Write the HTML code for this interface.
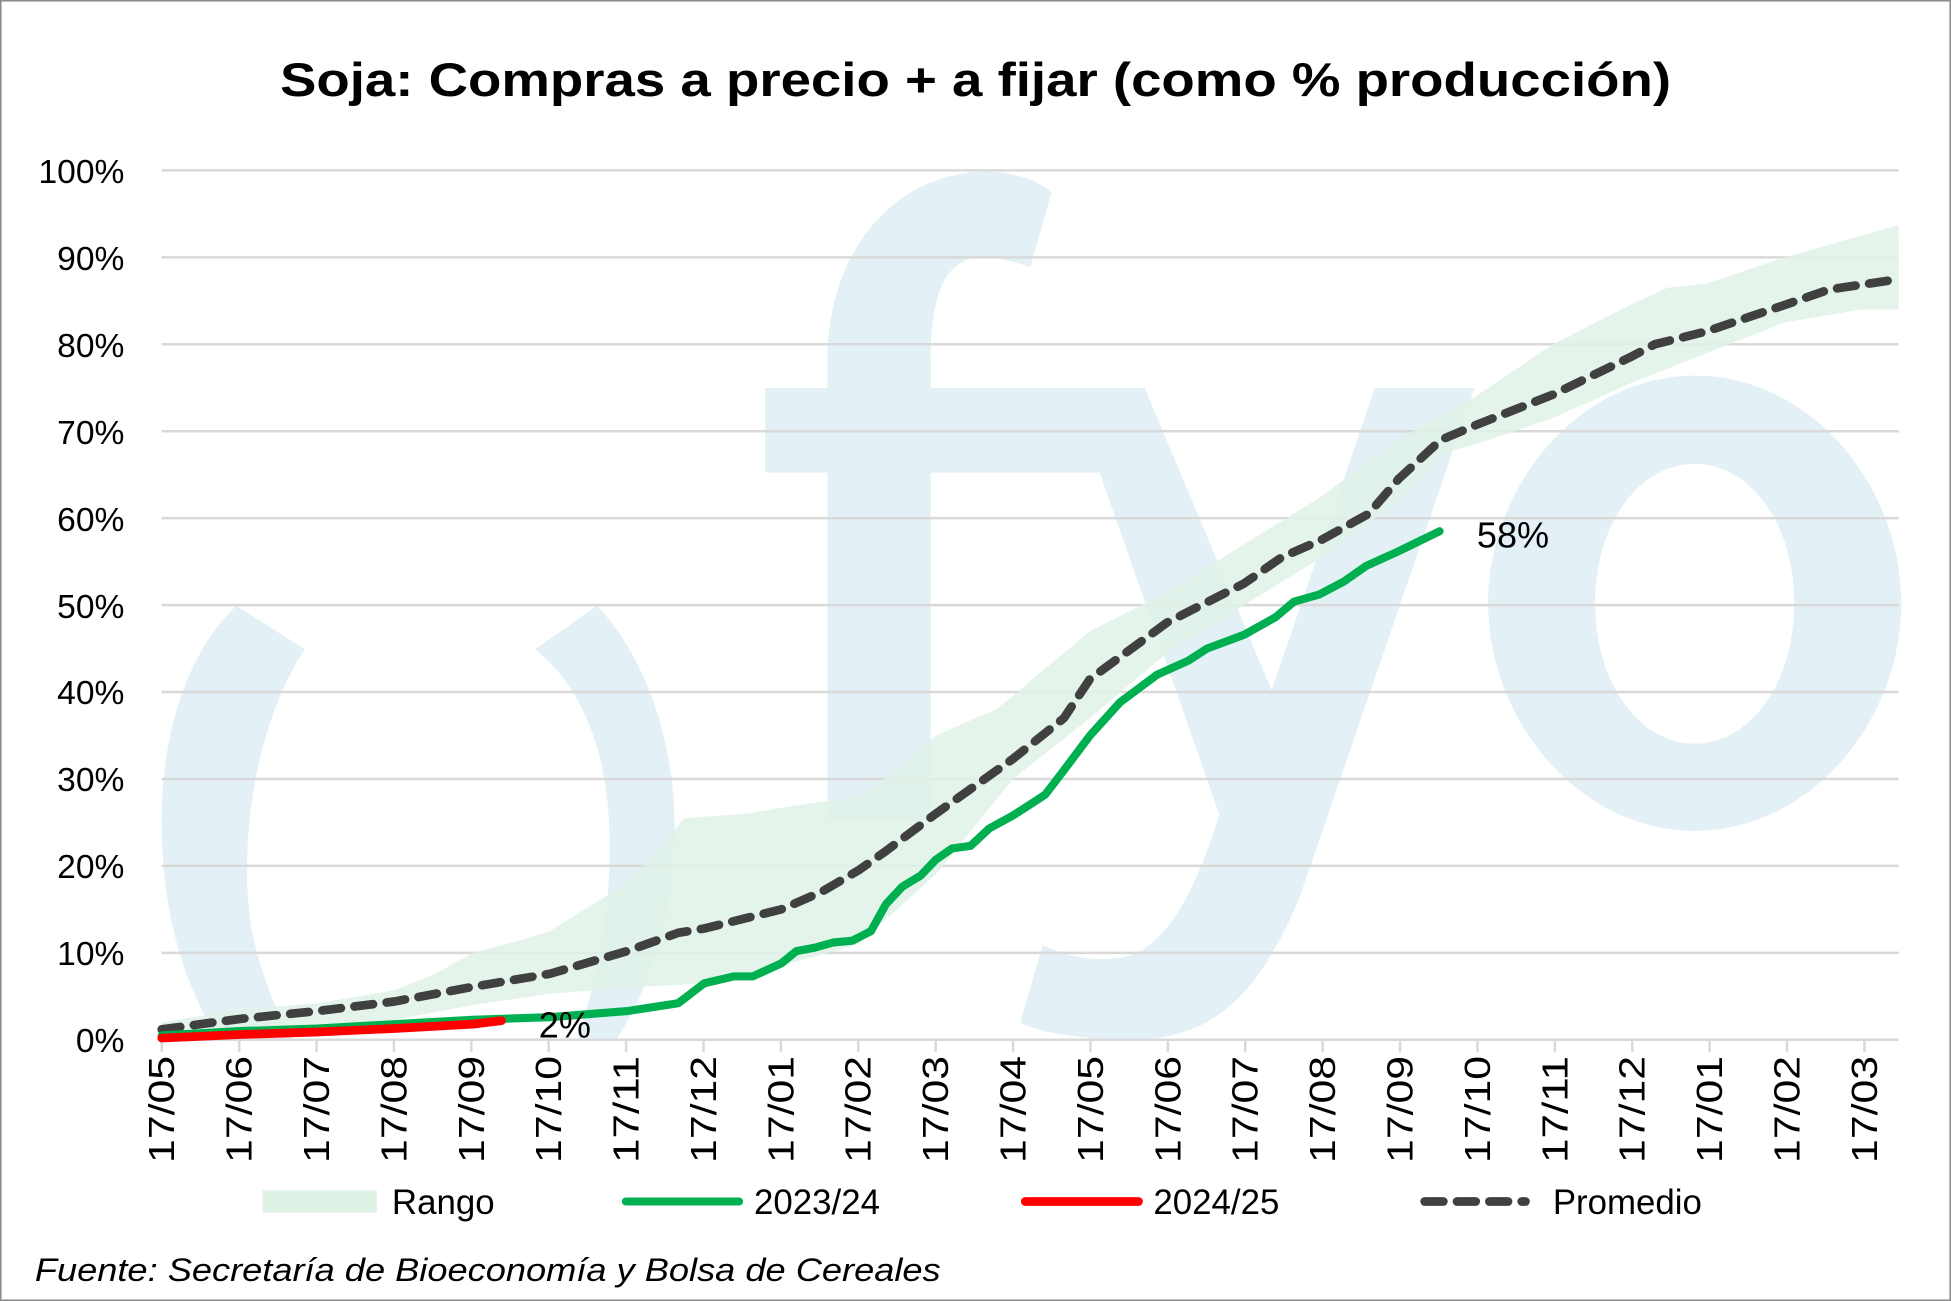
<!DOCTYPE html>
<html><head><meta charset="utf-8"><style>
html,body{margin:0;padding:0;background:#fff}
svg{display:block}
text{font-family:"Liberation Sans",sans-serif;fill:#000}
</style></head><body>
<svg id="s" width="1951" height="1301" viewBox="0 0 1568 1046" preserveAspectRatio="none" xmlns="http://www.w3.org/2000/svg">
<defs><clipPath id="cp"><rect x="0" y="0" width="1568" height="836"/></clipPath></defs>
<rect x="0.5" y="0.5" width="1567" height="1045" fill="#fff" stroke="#8c8c8c" stroke-width="1.5"/>
<!-- watermark -->
<g fill="#e3f0f5" clip-path="url(#cp)">
<path d="M190,487 L245,522 C200,590 190,700 205,760 C215,800 230,830 245,850 L185,850 C150,800 130,740 130,660 C130,580 155,520 190,487 Z"/>
<path d="M480,487 C520,530 545,600 542,680 C540,760 510,820 478,860 L455,860 C470,820 490,760 490,680 C490,600 465,550 430,522 Z"/>
<path d="M665,660 L665,290 C665,200 720,140 790,138 C815,138 835,145 845,155 L828,215 C815,210 800,207 790,207 C760,207 748,235 748,290 L748,660 Z"/>
<rect x="615" y="312" width="305" height="68"/>
<path d="M860,312 L920,312 L1022,555 L1105,312 L1185,312 L1045,720 C1000,830 950,840 880,835 C850,832 830,828 820,822 L838,760 C860,770 880,773 900,770 C935,765 960,720 980,655 Z"/>
<path fill-rule="evenodd" d="M1362,302 C1455,302 1528,390 1528,485 C1528,580 1455,668 1362,668 C1270,668 1196,580 1196,485 C1196,390 1270,302 1362,302 Z M1362,373 C1318,373 1282,420 1282,485 C1282,550 1318,598 1362,598 C1406,598 1442,550 1442,485 C1442,420 1406,373 1362,373 Z"/>
</g>
<g id="grid" stroke="#d9d9d9" stroke-width="2"></g>
<path id="rango" fill="#dff2e6" fill-opacity="0.85"/>
<path id="prom" fill="none" stroke="#404040" stroke-width="7" stroke-dasharray="15 11" stroke-linecap="round" stroke-linejoin="round"/>
<path id="g23" fill="none" stroke="#00b050" stroke-width="6.5" stroke-linecap="round" stroke-linejoin="round"/>
<path id="r24" fill="none" stroke="#ff0000" stroke-width="7" stroke-linecap="round" stroke-linejoin="round"/>
<text x="784" y="77" text-anchor="middle" font-size="38" font-weight="bold" textLength="1118" lengthAdjust="spacingAndGlyphs">Soja: Compras a precio + a fijar (como % producción)</text>
<g font-size="27" text-anchor="end">
<text x="100" y="846">0%</text><text x="100" y="776">10%</text><text x="100" y="706">20%</text><text x="100" y="636">30%</text><text x="100" y="566">40%</text><text x="100" y="497">50%</text><text x="100" y="427">60%</text><text x="100" y="357">70%</text><text x="100" y="287">80%</text><text x="100" y="217">90%</text><text x="100" y="147">100%</text>
</g>
<g id="xl" font-size="29" text-anchor="end"></g>
<text x="1187" y="440" font-size="29">58%</text>
<text x="433" y="834" font-size="29">2%</text>
<rect x="211" y="957" width="92" height="18" fill="#dff2e6"/>
<text x="315" y="976" font-size="28">Rango</text>
<line x1="503" y1="966" x2="594" y2="966" stroke="#00b050" stroke-width="6.5" stroke-linecap="round"/>
<text x="606" y="976" font-size="28">2023/24</text>
<line x1="824" y1="966" x2="915" y2="966" stroke="#ff0000" stroke-width="7" stroke-linecap="round"/>
<text x="927" y="976" font-size="28">2024/25</text>
<line x1="1145" y1="966" x2="1226" y2="966" stroke="#404040" stroke-width="7" stroke-dasharray="15 11" stroke-linecap="round"/>
<text x="1248" y="976" font-size="28">Promedio</text>
<text x="28" y="1030" font-size="26" font-style="italic" textLength="728" lengthAdjust="spacingAndGlyphs">Fuente: Secretaría de Bioeconomía y Bolsa de Cereales</text>
</svg>
<script>
var Y=function(p){return 836-p*6.99};
function P(a){return a.map(function(d,i){return (i?'L':'M')+d[0]+','+Y(d[1]).toFixed(1)}).join(' ')}
var g=document.getElementById('grid'),h='';
for(var i=0;i<=10;i++){var y=Y(i*10);h+='<line x1="130" x2="1526" y1="'+y+'" y2="'+y+'"/>'}
var ticks=[];for(var i=0;i<23;i++)ticks.push(130+i*62.2);
ticks.forEach(function(x){h+='<line x1="'+x+'" x2="'+x+'" y1="836" y2="846"/>'});
g.innerHTML=h;
var lab=['17/05','17/06','17/07','17/08','17/09','17/10','17/11','17/12','17/01','17/02','17/03','17/04','17/05','17/06','17/07','17/08','17/09','17/10','17/11','17/12','17/01','17/02','17/03'];
var xs='';ticks.forEach(function(x,i){xs+='<text textLength="86" lengthAdjust="spacingAndGlyphs" transform="translate('+(x+10)+',849) rotate(-90)">'+lab[i]+'</text>'});
document.getElementById('xl').innerHTML=xs;
var up=[[130,2],[193,3.5],[255,4.2],[317,5.7],[350,7.6],[380,10],[420,11.5],[442,12.5],[470,15],[504,18],[530,22],[550,25.5],[600,26],[628,26.7],[690,28],[720,31],[752,35],[800,38],[814,39.5],[830,41.5],[876,47],[938,51.5],[1000,57],[1062,62.5],[1124,69],[1186,74],[1248,80],[1310,84.5],[1340,86.5],[1372,87],[1434,90],[1496,92.5],[1526,93.7]];
var lo=[[130,0.3],[193,0.8],[255,1.3],[317,2.3],[380,4],[442,5.3],[504,6],[566,6.5],[628,8.5],[690,11],[752,19],[814,30],[876,37],[938,44.5],[1000,50],[1062,55.5],[1124,62],[1160,67.5],[1186,68.5],[1248,71.5],[1310,75.5],[1372,79],[1434,82.5],[1496,84],[1526,84]];
document.getElementById('rango').setAttribute('d',P(up)+' '+P(lo.slice().reverse()).replace('M','L')+' Z');
document.getElementById('prom').setAttribute('d',P([[130,1.2],[193,2.4],[255,3.3],[317,4.4],[380,6.1],[442,7.6],[504,10.2],[545,12.3],[566,12.8],[600,14],[628,15],[660,17],[690,19.5],[710,21.5],[752,26],[814,32.3],[855,37],[876,41.5],[938,48],[1000,52.5],[1030,55.5],[1062,57.5],[1100,60.5],[1124,64.5],[1158,69],[1186,70.7],[1248,74.2],[1310,78.5],[1330,80],[1372,81.5],[1434,84.5],[1470,86.3],[1526,87.5]]));
document.getElementById('g23').setAttribute('d',P([[130,0.5],[193,1],[255,1.3],[317,1.8],[380,2.3],[442,2.6],[504,3.3],[545,4.2],[566,6.5],[590,7.3],[605,7.3],[628,8.8],[640,10.2],[655,10.6],[670,11.2],[685,11.4],[700,12.5],[712,15.6],[725,17.6],[740,18.9],[752,20.7],[765,22],[780,22.3],[795,24.3],[814,25.8],[825,26.8],[840,28.2],[855,31],[876,35],[900,38.8],[930,42],[955,43.6],[970,45],[1000,46.6],[1025,48.6],[1040,50.4],[1060,51.2],[1080,52.7],[1098,54.5],[1124,56.2],[1157,58.5]]));
document.getElementById('r24').setAttribute('d',P([[130,0.2],[193,0.6],[255,0.9],[317,1.3],[380,1.8],[403,2.2]]));
</script>
</body></html>
